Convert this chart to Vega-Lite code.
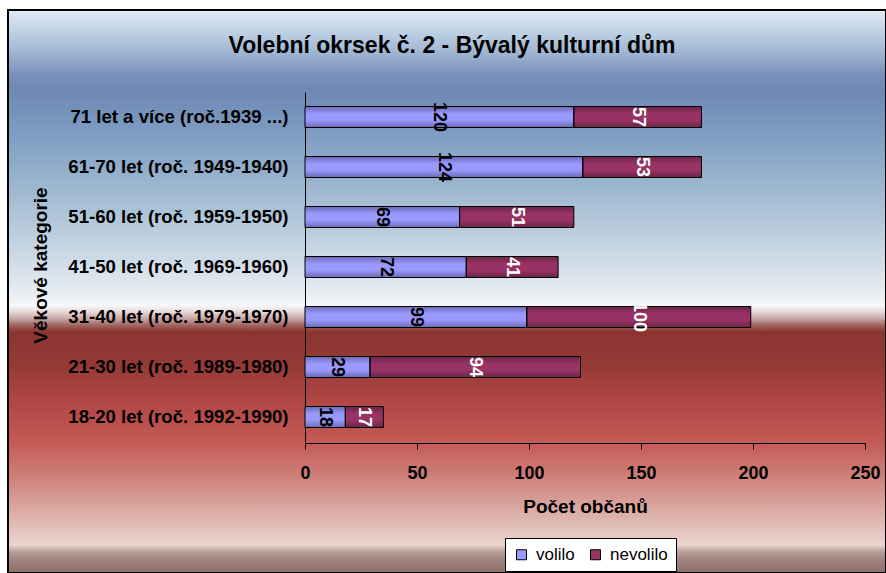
{
  "$schema": "https://vega.github.io/schema/vega-lite/v6.json",
  "autosize": {"type": "none"},
  "padding": {"left": 8, "top": 10, "right": 0, "bottom": 0},
  "width": 878,
  "height": 563,
  "background": "white",
  "title": {
    "text": "Volební okrsek č. 2 - Bývalý kulturní dům",
    "frame": "group",
    "anchor": "middle",
    "baseline": "alphabetic",
    "offset": -66,
    "dx": 5,
    "font": "Liberation Sans",
    "fontSize": 23,
    "fontWeight": "bold",
    "color": "black"
  },
  "data": {
    "values": [
      {"kategorie": "71 let a více (roč.1939 ...)", "serie": "volilo", "pocet": 120},
      {"kategorie": "71 let a více (roč.1939 ...)", "serie": "nevolilo", "pocet": 57},
      {"kategorie": "61-70 let (roč. 1949-1940)", "serie": "volilo", "pocet": 124},
      {"kategorie": "61-70 let (roč. 1949-1940)", "serie": "nevolilo", "pocet": 53},
      {"kategorie": "51-60 let (roč. 1959-1950)", "serie": "volilo", "pocet": 69},
      {"kategorie": "51-60 let (roč. 1959-1950)", "serie": "nevolilo", "pocet": 51},
      {"kategorie": "41-50 let (roč. 1969-1960)", "serie": "volilo", "pocet": 72},
      {"kategorie": "41-50 let (roč. 1969-1960)", "serie": "nevolilo", "pocet": 41},
      {"kategorie": "31-40 let (roč. 1979-1970)", "serie": "volilo", "pocet": 99},
      {"kategorie": "31-40 let (roč. 1979-1970)", "serie": "nevolilo", "pocet": 100},
      {"kategorie": "21-30 let (roč. 1989-1980)", "serie": "volilo", "pocet": 29},
      {"kategorie": "21-30 let (roč. 1989-1980)", "serie": "nevolilo", "pocet": 94},
      {"kategorie": "18-20 let (roč. 1992-1990)", "serie": "volilo", "pocet": 18},
      {"kategorie": "18-20 let (roč. 1992-1990)", "serie": "nevolilo", "pocet": 17}
    ]
  },
  "transform": [
    {"stack": "pocet", "groupby": ["kategorie"], "sort": [{"field": "serie", "order": "descending"}], "as": ["x0", "x1"]}
  ],
  "encoding": {
    "y": {
      "field": "kategorie",
      "type": "nominal",
      "sort": [
        "71 let a více (roč.1939 ...)",
        "61-70 let (roč. 1949-1940)",
        "51-60 let (roč. 1959-1950)",
        "41-50 let (roč. 1969-1960)",
        "31-40 let (roč. 1979-1970)",
        "21-30 let (roč. 1989-1980)",
        "18-20 let (roč. 1992-1990)"
      ],
      "scale": {"range": [82, 432], "paddingInner": 0.58, "paddingOuter": 0.29},
      "axis": {
        "title": "Věkové kategorie",
        "offset": -297,
        "ticks": false,
        "tickSize": 0,
        "labelPadding": 17,
        "labelLimit": 0,
        "labelFont": "Liberation Sans",
        "labelFontSize": 18.6,
        "labelFontWeight": "bold",
        "labelColor": "black",
        "domainColor": "black",
        "domainWidth": 1,
        "titleFont": "Liberation Sans",
        "titleFontSize": 19,
        "titleFontWeight": "bold",
        "titleColor": "black",
        "titleAngle": -90,
        "titleAlign": "center",
        "titleBaseline": "middle",
        "titleX": -265,
        "titleY": 255
      }
    }
  },
  "layer": [
    {
      "mark": {"type": "bar"},
      "encoding": {
        "x": {
          "field": "x0",
          "type": "quantitative",
          "scale": {"domain": [0, 250], "nice": false, "range": [297, 857]},
          "axis": {
            "title": "Počet občanů",
            "offset": -130,
            "values": [0, 50, 100, 150, 200, 250],
            "grid": false,
            "tickSize": 6,
            "tickColor": "black",
            "domainColor": "black",
            "labelPadding": 15,
            "labelFont": "Liberation Sans",
            "labelFontSize": 18,
            "labelFontWeight": "bold",
            "labelColor": "black",
            "labelFlush": false,
            "titleFont": "Liberation Sans",
            "titleFontSize": 19,
            "titleFontWeight": "bold",
            "titleColor": "black",
            "titleBaseline": "alphabetic",
            "titleY": 69
          }
        },
        "x2": {"field": "x1"},
        "color": {
          "field": "serie",
          "type": "nominal",
          "scale": {"domain": ["volilo", "nevolilo"], "range": ["#9999ff", "#993366"]},
          "legend": {
            "title": null,
            "orient": "none",
            "direction": "horizontal",
            "legendX": 497,
            "legendY": 528,
            "padding": 8,
            "fillColor": "white",
            "strokeColor": "black",
            "symbolType": "square",
            "symbolSize": 100,
            "symbolStrokeColor": "black",
            "symbolStrokeWidth": 1,
            "symbolOpacity": 1,
            "labelOffset": 6,
            "columnPadding": 12,
            "labelFont": "Liberation Sans",
            "labelFontSize": 17,
            "labelColor": "black"
          }
        }
      }
    },
    {
      "mark": {
        "type": "bar",
        "stroke": "black",
        "strokeWidth": 1,
        "fill": {
          "gradient": "linear",
          "x1": 0, "y1": 0, "x2": 0, "y2": 1,
          "stops": [
            {"offset": 0, "color": "rgba(0,0,0,0.3)"},
            {"offset": 0.35, "color": "rgba(0,0,0,0)"},
            {"offset": 0.65, "color": "rgba(0,0,0,0)"},
            {"offset": 1, "color": "rgba(0,0,0,0.3)"}
          ]
        }
      },
      "encoding": {
        "x": {"field": "x0", "type": "quantitative"},
        "x2": {"field": "x1"}
      }
    },
    {
      "transform": [
        {"fold": ["x0", "x1"], "as": ["hrana", "pozice"]},
        {"aggregate": [{"op": "mean", "field": "pozice", "as": "stred"}], "groupby": ["kategorie", "serie", "pocet"]}
      ],
      "mark": {
        "type": "text",
        "angle": 90,
        "align": "center",
        "baseline": "middle",
        "font": "Liberation Sans",
        "fontSize": 18,
        "fontWeight": "bold"
      },
      "encoding": {
        "x": {"field": "stred", "type": "quantitative"},
        "text": {"field": "pocet", "type": "quantitative"},
        "color": {
          "condition": {"test": "datum.serie === 'volilo'", "value": "black"},
          "value": "white"
        }
      }
    }
  ],
  "config": {
    "view": {
      "stroke": "black",
      "strokeWidth": 2,
      "fill": {
        "gradient": "linear",
        "x1": 0, "y1": 0, "x2": 0, "y2": 1,
        "stops": [
          {"offset": 0, "color": "#e0ebf5"},
          {"offset": 0.027, "color": "#c9d9e9"},
          {"offset": 0.071, "color": "#a3bad5"},
          {"offset": 0.115, "color": "#7a90bb"},
          {"offset": 0.142, "color": "#6f87b4"},
          {"offset": 0.18, "color": "#7592bb"},
          {"offset": 0.25, "color": "#87a5c6"},
          {"offset": 0.34, "color": "#a6bed3"},
          {"offset": 0.43, "color": "#c8d7e4"},
          {"offset": 0.5, "color": "#e6ecf2"},
          {"offset": 0.525, "color": "#f6f7f9"},
          {"offset": 0.535, "color": "#eadcdc"},
          {"offset": 0.548, "color": "#c8a8a6"},
          {"offset": 0.56, "color": "#a06462"},
          {"offset": 0.572, "color": "#8a3531"},
          {"offset": 0.63, "color": "#953a36"},
          {"offset": 0.7, "color": "#b24846"},
          {"offset": 0.765, "color": "#c45955"},
          {"offset": 0.82, "color": "#cc7a74"},
          {"offset": 0.87, "color": "#d79d97"},
          {"offset": 0.92, "color": "#e2c0b9"},
          {"offset": 0.95, "color": "#ebd6cf"},
          {"offset": 0.962, "color": "#b8a09a"},
          {"offset": 0.975, "color": "#a28680"},
          {"offset": 1, "color": "#8f6c66"}
        ]
      }
    }
  }
}
